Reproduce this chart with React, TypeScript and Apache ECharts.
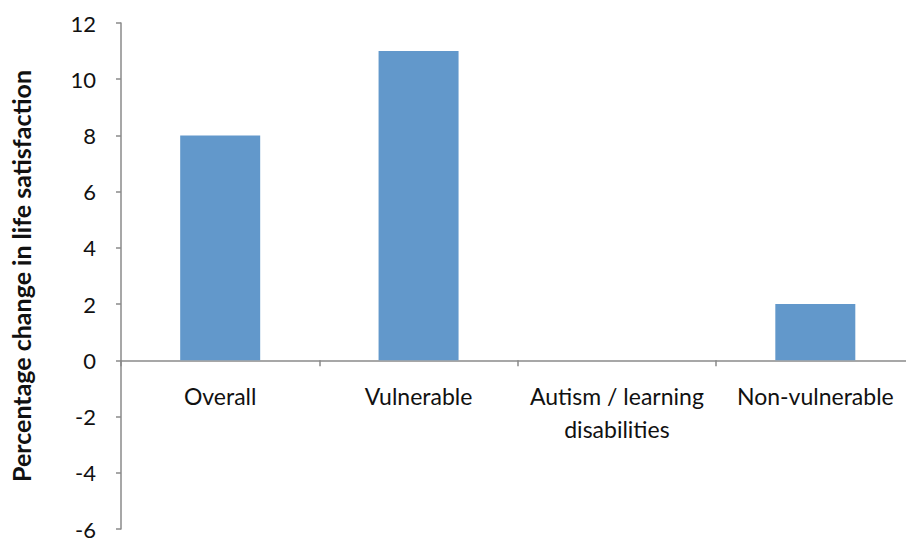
import React, { useEffect, useRef } from "react";
import * as echarts from "echarts";

const categories = ["Overall", "Vulnerable", "Autism / learning\ndisabilities", "Non-vulnerable"];
const values = [8, 11, 0, 2];
const yAxisTitle = "Percentage change in life satisfaction";
const yMin = -6;
const yMax = 12;
const yStep = 2;

export default function App() {
  const ref = useRef<HTMLDivElement>(null);
  useEffect(() => {
    document.body.style.margin = "0";
    const top = 23;
    const bottom = 12;
    const height = 541;
    const gridH = height - top - bottom;
    const zeroOffset = -((0 - yMin) / (yMax - yMin)) * gridH;
    const chart = echarts.init(ref.current!, null, { renderer: "svg" });
    chart.setOption({
      animation: false,
      backgroundColor: "#ffffff",
      grid: { left: 121, top, bottom, right: -8.5, containLabel: false, outerBoundsMode: "none" },
      xAxis: {
        type: "category",
        data: categories,
        offset: zeroOffset,
        axisLine: { onZero: false, lineStyle: { color: "#8a8a8a", width: 1.5 } },
        axisTick: { show: true, length: 6, lineStyle: { color: "#8a8a8a", width: 1.5 } },
        axisLabel: {
          color: "#111",
          fontFamily: "Lato",
          fontSize: 23,
          lineHeight: 33,
          margin: 19,
          interval: 0,
        },
      },
      yAxis: {
        type: "value",
        min: yMin,
        max: yMax,
        interval: yStep,
        name: yAxisTitle,
        nameLocation: "middle",
        nameRotate: 90,
        nameGap: 88,
        nameTextStyle: { color: "#111", fontFamily: "Lato", fontWeight: "bold", fontSize: 25 },
        splitLine: { show: false },
        axisLine: { show: true, lineStyle: { color: "#8a8a8a", width: 1.5 } },
        axisTick: { show: true, length: 5, lineStyle: { color: "#8a8a8a", width: 1.5 } },
        axisLabel: { color: "#111", fontFamily: "Lato", fontSize: 22, margin: 25 },
      },
      series: [
        {
          type: "bar",
          data: values,
          barWidth: 80,
          itemStyle: { color: "#6298cb" },
        },
      ],
    });
    return () => chart.dispose();
  }, []);
  return <div ref={ref} style={{ width: 906, height: 541 }} />;
}
